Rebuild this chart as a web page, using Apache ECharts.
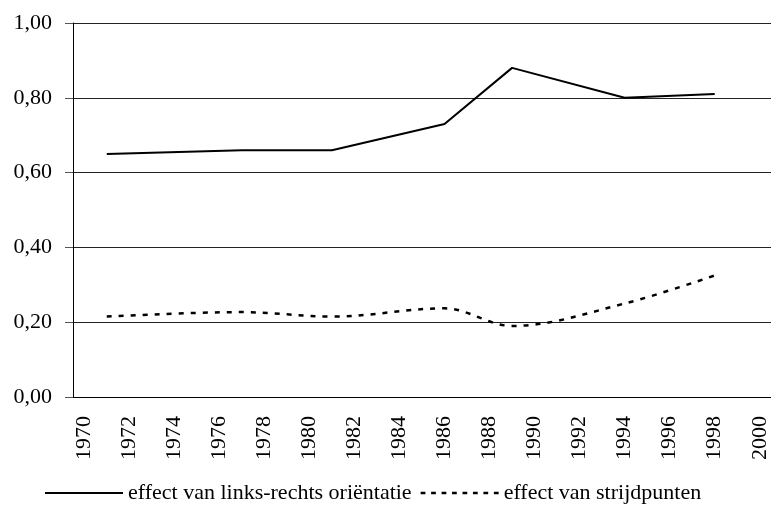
<!DOCTYPE html>
<html>
<head>
<meta charset="utf-8">
<script src="https://cdn.jsdelivr.net/npm/echarts@6/dist/echarts.min.js"></script>
<style>
  html, body { margin: 0; padding: 0; background: #fff; }
  #chart { width: 771px; height: 524px; }
</style>
</head>
<body>
<div id="chart"></div>
<script>
// years on the axis (one category per year)
const years = [];
for (let y = 1970; y <= 2000; y++) years.push(String(y));

// survey years with measured effects
const surveyYears = ['1971', '1977', '1981', '1986', '1989', '1994', '1998'];
const linksRechts = [0.65, 0.66, 0.66, 0.73, 0.88, 0.80, 0.81];
const strijdpunten = [0.215, 0.227, 0.215, 0.237, 0.19, 0.25, 0.325];

function toSeries(vals) {
  return years.map(y => {
    const i = surveyYears.indexOf(y);
    return i >= 0 ? vals[i] : null;
  });
}

// legend icons: a plain line and a dashed one
const solidIcon = 'path://M0,6H78V8H0Z';
let dashIcon = 'path://';
for (let x = 0; x < 78; x += 11) dashIcon += 'M' + x + ',6H' + (x + 5) + 'V8.5H' + x + 'Z';

const chart = echarts.init(document.getElementById('chart'));
const font = '"Liberation Serif", "Times New Roman", serif';

chart.setOption({
  backgroundColor: '#fff',
  animation: false,
  textStyle: { fontFamily: font },
  grid: { left: 73, top: 23, width: 703, height: 374 },
  legend: {
    left: 40,
    top: 477,
    itemWidth: 78,
    itemHeight: 14,
    itemGap: 9,
    textStyle: { fontFamily: font, fontSize: 22, color: '#000' },
    data: [
      { name: 'effect van links-rechts oriëntatie', icon: solidIcon },
      { name: 'effect van strijdpunten', icon: dashIcon }
    ]
  },
  xAxis: {
    type: 'category',
    data: years,
    boundaryGap: true,
    axisLine: { lineStyle: { color: '#000', width: 1 } },
    axisTick: { interval: 0, length: 8, lineStyle: { color: '#000' } },
    axisLabel: {
      interval: 1,
      rotate: 90,
      margin: 19,
      fontFamily: font,
      fontSize: 22,
      color: '#000'
    },
    splitLine: { show: false }
  },
  yAxis: {
    type: 'value',
    min: 0,
    max: 1,
    interval: 0.2,
    axisLine: { show: true, lineStyle: { color: '#000', width: 1 } },
    axisTick: { show: true, length: 8, lineStyle: { color: '#555' } },
    axisLabel: {
      margin: 21,
      fontFamily: font,
      fontSize: 22,
      color: '#000',
      formatter: v => v.toFixed(2).replace('.', ',')
    },
    splitLine: { lineStyle: { color: '#222', width: 1 } }
  },
  series: [
    {
      name: 'effect van links-rechts oriëntatie',
      type: 'line',
      data: toSeries(linksRechts),
      connectNulls: true,
      symbol: 'none',
      lineStyle: { color: '#000', width: 2 },
      itemStyle: { color: '#000' }
    },
    {
      name: 'effect van strijdpunten',
      type: 'line',
      data: toSeries(strijdpunten),
      connectNulls: true,
      smooth: 0.35,
      symbol: 'none',
      lineStyle: { color: '#000', width: 2.5, type: [5, 7] },
      itemStyle: { color: '#000' }
    }
  ]
});
</script>
</body>
</html>
